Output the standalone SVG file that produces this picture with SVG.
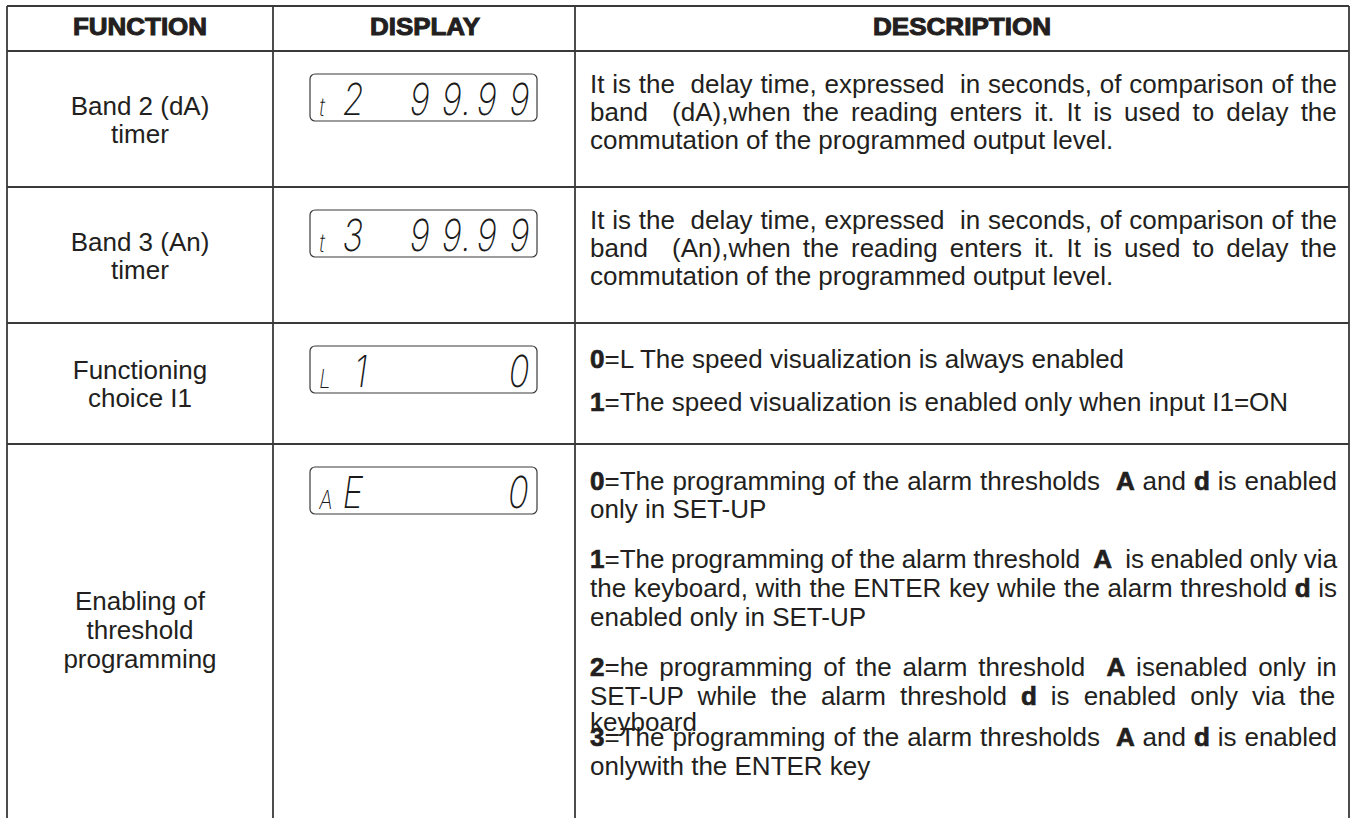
<svg xmlns="http://www.w3.org/2000/svg" width="1356" height="818" viewBox="0 0 1356 818">
<style>
text{font-family:"Liberation Sans",Arial,sans-serif;fill:#231f20}
.h{font-size:24px;font-weight:bold;stroke:#231f20;stroke-width:1px;text-anchor:middle}
.f{font-size:26px;text-anchor:middle}
.d{font-size:26px}
.b{font-weight:bold;stroke:#231f20;stroke-width:0.7px}
.grid{stroke:#3a3a3a;stroke-width:1.8;fill:none}
.lcdbox{fill:none;stroke:#3a3a3a;stroke-width:1.2}
.lcd{font-family:Inter,"DejaVu Sans",sans-serif;font-weight:200;font-size:44px;fill:#1a1a1a}
.sm{font-size:26px}
</style>
<rect width="1356" height="818" fill="#ffffff"/>
<g id="grid" class="grid">
<path d="M7 6H1349M7 51H1349M7 187H1349M7 323H1349M7 444H1349"/>
<path d="M7 6V818M273 6V818M575 6V818M1349 6V818"/>
</g>
<g id="header">
<text class="h" x="140" y="35" textLength="134" lengthAdjust="spacingAndGlyphs">FUNCTION</text>
<text class="h" x="425" y="35" textLength="110" lengthAdjust="spacingAndGlyphs">DISPLAY</text>
<text class="h" x="962" y="35" textLength="178" lengthAdjust="spacingAndGlyphs">DESCRIPTION</text>
</g>
<g id="row-band2">
<text class="f" x="140" y="115">Band 2 (dA)</text>
<text class="f" x="140" y="143">timer</text>
<g id="display-t2" transform="translate(310,74)">
<rect class="lcdbox" width="227" height="47" rx="5"/>
<text class="lcd" transform="matrix(0.78 0 -0.14 1 0 0)" xml:space="preserve"><tspan class="sm" x="18" y="42">t</tspan><tspan x="47" y="41">2 </tspan><tspan x="133" y="41">9</tspan><tspan x="174" y="41">9</tspan><tspan x="200" y="41">.</tspan><tspan x="219" y="41">9</tspan><tspan x="261" y="41">9</tspan></text>
</g>
<text class="d" x="590" y="93" xml:space="preserve" style="word-spacing:0.55px">It is the  delay time, expressed  in seconds, of comparison of the</text>
<text class="d" x="590" y="121" xml:space="preserve" style="word-spacing:4.9px">band  (dA),when the reading enters it. It is used to delay the</text>
<text class="d" x="590" y="149">commutation of the programmed output level.</text>
</g>
<g id="row-band3">
<text class="f" x="140" y="251">Band 3 (An)</text>
<text class="f" x="140" y="279">timer</text>
<g id="display-t3" transform="translate(310,210)">
<rect class="lcdbox" width="227" height="47" rx="5"/>
<text class="lcd" transform="matrix(0.78 0 -0.14 1 0 0)" xml:space="preserve"><tspan class="sm" x="18" y="42">t</tspan><tspan x="47" y="41">3 </tspan><tspan x="133" y="41">9</tspan><tspan x="174" y="41">9</tspan><tspan x="200" y="41">.</tspan><tspan x="219" y="41">9</tspan><tspan x="261" y="41">9</tspan></text>
</g>
<text class="d" x="590" y="229" xml:space="preserve" style="word-spacing:0.55px">It is the  delay time, expressed  in seconds, of comparison of the</text>
<text class="d" x="590" y="257" xml:space="preserve" style="word-spacing:4.9px">band  (An),when the reading enters it. It is used to delay the</text>
<text class="d" x="590" y="285">commutation of the programmed output level.</text>
</g>
<g id="row-choice-i1">
<text class="f" x="140" y="379">Functioning</text>
<text class="f" x="140" y="407">choice I1</text>
<g id="display-l1" transform="translate(310,346)">
<rect class="lcdbox" width="227" height="47" rx="5"/>
<text class="lcd" transform="matrix(0.78 0 -0.14 1 0 0)" xml:space="preserve"><tspan class="sm" x="18" y="42">L</tspan><tspan x="62" y="41">1 </tspan><tspan x="260" y="41">0</tspan></text>
</g>
<text class="d" x="590" y="368"><tspan class="b">0</tspan>=L The speed visualization is always enabled</text>
<text class="d" x="590" y="411"><tspan class="b">1</tspan>=The speed visualization is enabled only when input I1=ON</text>
</g>
<g id="row-threshold">
<text class="f" x="140" y="610">Enabling of</text>
<text class="f" x="140" y="639">threshold</text>
<text class="f" x="140" y="668">programming</text>
<g id="display-ae" transform="translate(310,467)">
<rect class="lcdbox" width="227" height="47" rx="5"/>
<text class="lcd" transform="matrix(0.78 0 -0.14 1 0 0)" xml:space="preserve"><tspan class="sm" x="18" y="42">A</tspan><tspan x="47" y="41">E </tspan><tspan x="259" y="41">0</tspan></text>
</g>
<text class="d" x="590" y="490" xml:space="preserve" style="word-spacing:0.7px"><tspan class="b">0</tspan>=The programming of the alarm thresholds  <tspan class="b">A</tspan> and <tspan class="b">d</tspan> is enabled</text>
<text class="d" x="590" y="518">only in SET-UP</text>
<text class="d" x="590" y="568" xml:space="preserve" style="word-spacing:-0.67px"><tspan class="b">1</tspan>=The programming of the alarm threshold  <tspan class="b">A</tspan>  is enabled only via</text>
<text class="d" x="590" y="597" xml:space="preserve" style="word-spacing:0.39px">the keyboard, with the ENTER key while the alarm threshold <tspan class="b">d</tspan> is</text>
<text class="d" x="590" y="626">enabled only in SET-UP</text>
<text class="d" x="590" y="676" xml:space="preserve" style="word-spacing:3.5px"><tspan class="b">2</tspan>=he programming of the alarm threshold  <tspan class="b">A</tspan> isenabled only in</text>
<text class="d" x="590" y="705" xml:space="preserve" style="word-spacing:6.8px">SET-UP while the alarm threshold <tspan class="b">d</tspan> is enabled only via the</text>
<text class="d" x="590" y="731">keyboard</text>
<text class="d" x="590" y="746" xml:space="preserve" style="word-spacing:0.7px"><tspan class="b">3</tspan>=The programming of the alarm thresholds  <tspan class="b">A</tspan> and <tspan class="b">d</tspan> is enabled</text>
<text class="d" x="590" y="775">onlywith the ENTER key</text>
</g>
</svg>
